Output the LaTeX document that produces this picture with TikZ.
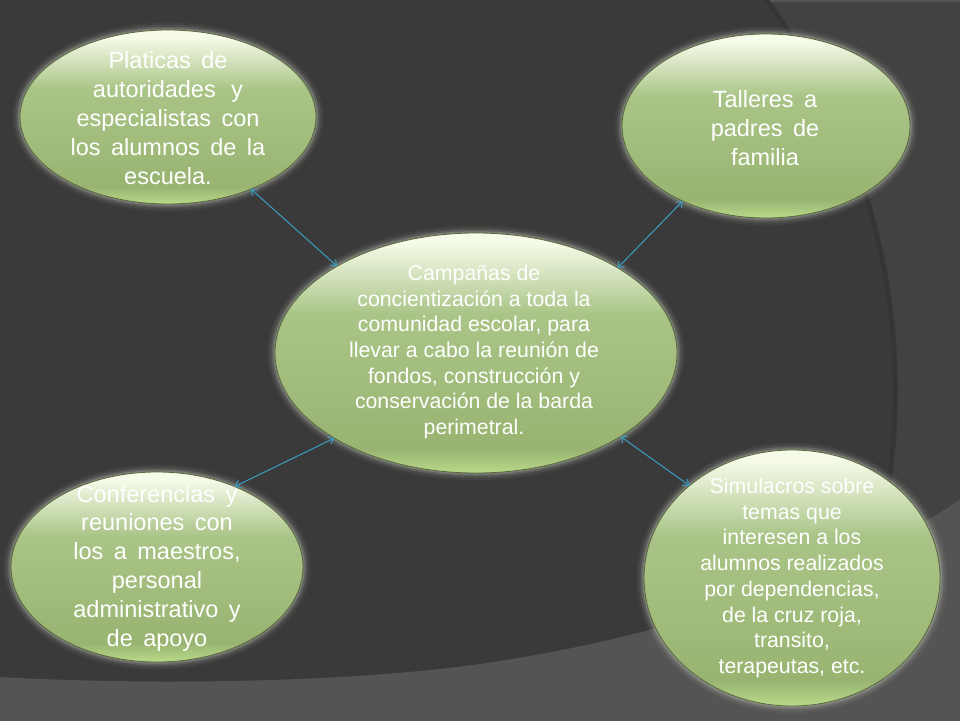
\documentclass[tikz,border=0pt]{standalone}
\usepackage{fontspec}
\setmainfont{Liberation Sans}
\newfontfamily\widefont[WordSpace=1.6]{Liberation Sans}
\usetikzlibrary{shapes.geometric,arrows.meta}
\definecolor{bgdark}{HTML}{3A3A3A}
\definecolor{bgshadow}{HTML}{353535}
\definecolor{bgmid}{HTML}{424242}
\definecolor{bglight}{HTML}{545454}
\definecolor{gbot}{HTML}{B9DA8A}
\definecolor{gmid}{HTML}{99B471}
\definecolor{gmidb}{HTML}{A9C486}
\definecolor{gtop}{HTML}{F6FBE9}
\definecolor{goutline}{HTML}{56683C}
\definecolor{glowc}{HTML}{D4D6C8}
\definecolor{conncol}{HTML}{3A9DC2}
\pgfdeclareverticalshading{bubbleshade}{100bp}{color(0bp)=(gbot); color(25bp)=(gbot); color(30bp)=(gmid); color(58bp)=(gmidb); color(73bp)=(gtop); color(100bp)=(gtop)}
\tikzset{
  bubble/.style={ellipse, inner sep=0pt, outer sep=0pt,
    preaction={draw=glowc, line width=15pt, opacity=0.05},
    preaction={draw=glowc, line width=11pt, opacity=0.08},
    preaction={draw=glowc, line width=7pt, opacity=0.14},
    preaction={draw=glowc, line width=3.5pt, opacity=0.25},
    shading=bubbleshade, draw=goutline, line width=0.8pt},
  bigtxt/.style={text=white, align=center, inner sep=0pt,
    font=\widefont\fontsize{23.5}{28.8}\selectfont},
  smalltxt/.style={text=white, align=center, inner sep=0pt,
    font=\fontsize{21.3}{25.7}\selectfont},
  conn/.style={draw=conncol, line width=1pt,
    arrows={Straight Barb[length=5pt,width=8pt]-Straight Barb[length=5pt,width=8pt]}}
}
\begin{document}
\begin{tikzpicture}[x=1pt,y=-1pt]
\useasboundingbox (0,0) rectangle (960,720);
% background
\fill[bgmid] (0,0) rectangle (960,720);
\begin{scope}
  \clip (0,0) rectangle (960,720);
  \fill[bgdark] (240,390) circle[radius=658];
  \draw[bgshadow, line width=4pt] (240,390) circle[radius=655];
  \fill[bglight] (0,677) .. controls (120,684) and (330,685) .. (480,664)
     .. controls (640,641) and (820,590) .. (960,500) -- (970,500) -- (970,740) -- (-10,740) -- (-10,677) -- cycle;
  \draw[bglight, line width=2pt] (770,1) -- (960,1);
\end{scope}
% ellipses
\node[bubble, minimum width=296pt, minimum height=174pt] (plat) at (168,117) {};
\node[bubble, minimum width=288pt, minimum height=184pt] (tall) at (766,126) {};
\node[bubble, minimum width=402pt, minimum height=240pt] (cen) at (476,353) {};
\node[bubble, minimum width=292pt, minimum height=190pt] (conf) at (157,567) {};
\node[bubble, minimum width=296pt, minimum height=256pt] (simu) at (792,578) {};
% texts
\node[bigtxt] (platt) at (168,118) {Platicas de\\autoridades\hspace{5pt} y\\especialistas con\\los alumnos de la\\escuela.};
\node[bigtxt] (tallt) at (765,128) {Talleres a\\padres de\\familia};
\node[smalltxt] (cent) at (474,352) {Campañas de\\concientización a toda la\\comunidad escolar, para\\llevar a cabo la reunión de\\fondos, construcción y\\conservación de la barda\\perimetral.};
\node[bigtxt] (conft) at (157,568) {Conferencias y\\reuniones con\\los a maestros,\\personal\\administrativo y\\de apoyo};
\node[smalltxt] (simut) at (792,578) {Simulacros sobre\\temas que\\interesen a los\\alumnos realizados\\por dependencias,\\de la cruz roja,\\transito,\\terapeutas, etc.};
% connectors
\draw[conn] (plat.-41.7) -- (cen.148.5);
\draw[conn] (tall.222.5) -- (cen.31.2);
\draw[conn] (conf.46.4) -- (cen.211.1);
\draw[conn] (simu.138.8) -- (cen.-30.9);
\end{tikzpicture}
\end{document}
